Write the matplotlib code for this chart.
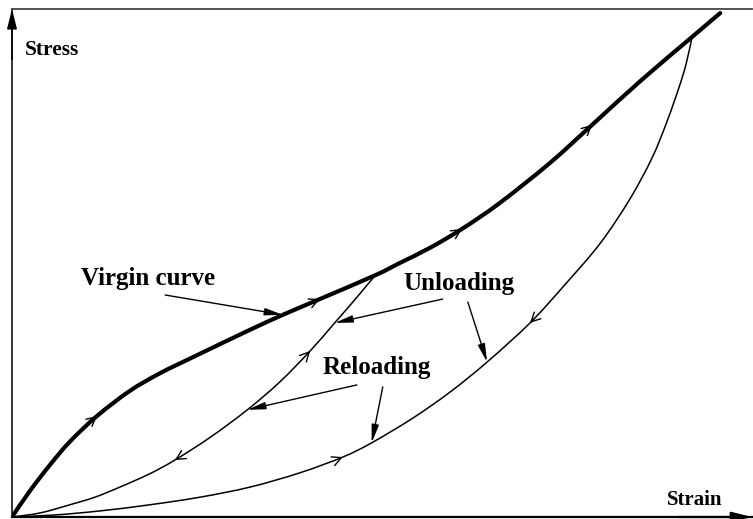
import matplotlib.pyplot as plt
from matplotlib.path import Path
from matplotlib.patches import PathPatch

# Stress-strain curves, strain and stress both normalised to 0..1
virgin_strain = [0.0, 0.024, 0.051, 0.078, 0.115, 0.159, 0.200, 0.245, 0.318, 0.366,
                 0.416, 0.491, 0.524, 0.565, 0.608, 0.659, 0.727, 0.784, 0.849, 0.919, 0.957]
virgin_stress = [0.0, 0.051, 0.102, 0.148, 0.199, 0.248, 0.283, 0.315, 0.366, 0.398,
                 0.429, 0.476, 0.500, 0.530, 0.567, 0.618, 0.697, 0.772, 0.858, 0.945, 0.992]

# first unload/reload loop (peak on the virgin curve at strain 0.491)
loop1_strain = [0.0, 0.038, 0.078, 0.112, 0.146, 0.186, 0.220, 0.268, 0.318, 0.362,
                0.403, 0.436, 0.464, 0.491]
loop1_stress = [0.0, 0.008, 0.024, 0.039, 0.059, 0.085, 0.112, 0.157, 0.211, 0.266,
                0.327, 0.382, 0.429, 0.476]

# second loop (peak at strain 0.919)
loop2_strain = [0.0, 0.058, 0.119, 0.186, 0.254, 0.322, 0.389, 0.447, 0.486, 0.542,
                0.592, 0.642, 0.700, 0.747, 0.795, 0.835, 0.865, 0.885, 0.901, 0.911, 0.919]
loop2_stress = [0.0, 0.004, 0.012, 0.024, 0.039, 0.059, 0.087, 0.118, 0.146, 0.195,
                0.246, 0.305, 0.382, 0.457, 0.539, 0.626, 0.707, 0.778, 0.844, 0.892, 0.945]

# direction marks: index on the curve, True = towards increasing strain
virgin_marks = [4, 10, 14, 17]
loop1_marks = [(6, False), (10, True)]
loop2_marks = [(7, True), (12, False)]

serif = ["Liberation Serif", "DejaVu Serif"]


def smooth_curve(ax, xs, ys, lw):
    # Catmull-Rom through every point, drawn as cubic Bezier segments
    pts = list(zip(xs, ys))
    verts = [pts[0]]
    codes = [Path.MOVETO]
    n = len(pts)
    for i in range(n - 1):
        p0 = pts[max(i - 1, 0)]
        p1 = pts[i]
        p2 = pts[i + 1]
        p3 = pts[min(i + 2, n - 1)]
        c1 = (p1[0] + (p2[0] - p0[0]) / 6, p1[1] + (p2[1] - p0[1]) / 6)
        c2 = (p2[0] - (p3[0] - p1[0]) / 6, p2[1] - (p3[1] - p1[1]) / 6)
        verts += [c1, c2, p2]
        codes += [Path.CURVE4] * 3
    ax.add_patch(PathPatch(Path(verts, codes), fill=False, edgecolor="black",
                           lw=lw, capstyle="round", joinstyle="round"))


def direction_mark(ax, xs, ys, i, forward=True):
    dx = xs[i + 1] - xs[i - 1]
    dy = ys[i + 1] - ys[i - 1]
    sign = 1 if forward else -1
    tail = (xs[i] - sign * 0.05 * dx, ys[i] - sign * 0.05 * dy)
    ax.annotate("", xy=(xs[i], ys[i]), xytext=tail,
                arrowprops=dict(arrowstyle="->,head_length=0.55,head_width=0.28",
                                color="black", lw=1.0, shrinkA=0, shrinkB=0,
                                mutation_scale=12))


def pointer(ax, start, tip):
    ax.annotate("", xy=tip, xytext=start,
                arrowprops=dict(arrowstyle="-|>,head_length=0.9,head_width=0.18",
                                color="black", lw=1.0, shrinkA=0, shrinkB=0,
                                mutation_scale=12))


fig = plt.figure(figsize=(7.53, 5.19), dpi=100)
ax = fig.add_axes([12 / 753, 2 / 519, 740 / 753, 508 / 519])
ax.set_xlim(0, 1)
ax.set_ylim(0, 1)

smooth_curve(ax, virgin_strain, virgin_stress, 3.0)
smooth_curve(ax, loop1_strain, loop1_stress, 1.1)
smooth_curve(ax, loop2_strain, loop2_stress, 1.1)

for i in virgin_marks:
    direction_mark(ax, virgin_strain, virgin_stress, i)
for i, fwd in loop1_marks:
    direction_mark(ax, loop1_strain, loop1_stress, i, fwd)
for i, fwd in loop2_marks:
    direction_mark(ax, loop2_strain, loop2_stress, i, fwd)

# frame: left and bottom axes with arrows, plain line on top
ax.spines["right"].set_visible(False)
ax.spines["top"].set_color("#444444")
ax.spines["top"].set_linewidth(1.3)
ax.spines["left"].set_linewidth(1.1)
ax.spines["bottom"].set_linewidth(1.6)
ax.set_xticks([])
ax.set_yticks([])
ax.annotate("", xy=(0, 1.0), xytext=(0, 0.9), xycoords="axes fraction",
            arrowprops=dict(arrowstyle="-|>,head_length=1.0,head_width=0.25",
                            color="black", lw=1.1, shrinkA=0, shrinkB=0, mutation_scale=12))
ax.annotate("", xy=(1.0, 0), xytext=(0.9, 0), xycoords="axes fraction",
            arrowprops=dict(arrowstyle="-|>,head_length=1.0,head_width=0.25",
                            color="black", lw=1.6, shrinkA=0, shrinkB=0, mutation_scale=12),
            annotation_clip=False)

ax.text(0.054, 0.919, "Stress", family=serif, weight="bold", fontsize=15.5,
        ha="center", va="center")
ax.text(0.923, 0.033, "Strain", family=serif, weight="bold", fontsize=15,
        ha="center", va="center")
ax.text(0.184, 0.470, "Virgin curve", family=serif, weight="bold", fontsize=18,
        ha="center", va="center")
ax.text(0.604, 0.459, "Unloading", family=serif, weight="bold", fontsize=18,
        ha="center", va="center")
ax.text(0.493, 0.295, "Reloading", family=serif, weight="bold", fontsize=18,
        ha="center", va="center")

pointer(ax, (0.207, 0.437), (virgin_strain[9], virgin_stress[9]))
pointer(ax, (0.582, 0.429), (loop1_strain[11], loop1_stress[11]))
pointer(ax, (0.616, 0.423), (loop2_strain[11], loop2_stress[11]))
pointer(ax, (0.466, 0.260), (loop1_strain[8], loop1_stress[8]))
pointer(ax, (0.501, 0.256), (loop2_strain[8], loop2_stress[8]))

fig.savefig("out.png", dpi=100)
